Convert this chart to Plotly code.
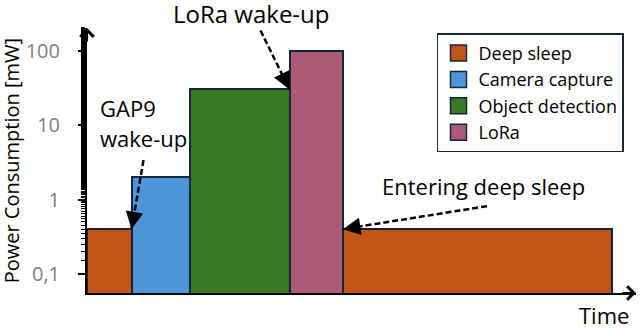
import math

import plotly.graph_objects as go

# phases of one duty cycle, in order of time
phases = ["Deep sleep", "Camera capture", "Object detection", "LoRa", "Deep sleep"]
durations = [44.5, 58.5, 99.5, 53.5, 269.0]  # arbitrary time units
power_mw = [0.4, 2.0, 30.0, 100.0, 0.4]

legend_names = ["Deep sleep", "Camera capture", "Object detection", "LoRa"]
colors = {
    "Deep sleep": "#c25418",
    "Camera capture": "#4f96d8",
    "Object detection": "#3b7a24",
    "LoRa": "#ad5b74",
}

y_tickvals = [0.1, 1, 10, 100]
y_ticktext = ["0,1", "1", "10", "100"]

FONT = "Open Sans, Noto Sans, sans-serif"
OUTLINE = "#13263a"
PX_PER_DECADE = 74.5

starts = [sum(durations[:i]) for i in range(len(durations))]
centers = [s + d / 2 for s, d in zip(starts, durations)]
ends = [s + d for s, d in zip(starts, durations)]

fig = go.Figure()

fig.add_trace(go.Bar(
    x=centers, y=power_mw, width=durations,
    marker=dict(color=[colors[p] for p in phases], line=dict(color=OUTLINE, width=2)),
    showlegend=False, hoverinfo="skip",
))

# legend entries
for name in legend_names:
    fig.add_trace(go.Scatter(
        x=[None], y=[None], mode="markers", name=name,
        marker=dict(symbol="square", size=16, color=colors[name],
                    line=dict(color=OUTLINE, width=1.5)),
    ))


def add_dashed_arrow(head_x, head_y, dx_px, dy_px):
    """dashed arrow ending at (head_x, head_y); tail offset given in pixels (dy up)"""
    tail_x = head_x + dx_px
    tail_y = head_y * 10 ** (dy_px / PX_PER_DECADE)
    fig.add_trace(go.Scatter(
        x=[tail_x, head_x], y=[tail_y, head_y], mode="lines",
        line=dict(color="black", width=2.5, dash="6px,3px"),
        showlegend=False, hoverinfo="skip",
    ))
    n = math.hypot(dx_px, dy_px)
    fig.add_annotation(
        x=head_x, y=math.log10(head_y), xref="x", yref="y", text="",
        showarrow=True, arrowhead=2, arrowsize=1.4, arrowwidth=2.5, arrowcolor="black",
        ax=dx_px / n * 14, ay=-dy_px / n * 14,
    )


# LoRa wake-up -> top-left corner of LoRa bar
add_dashed_arrow(ends[2], power_mw[2], -29, 59)
# GAP9 wake-up -> end of first deep sleep
add_dashed_arrow(ends[0], power_mw[0], 12, 69)
# entering deep sleep -> end of LoRa
add_dashed_arrow(ends[3], power_mw[4], 144, 23)


def add_label(x, y, text, size, xanchor="center", angle=0):
    fig.add_annotation(x=x, y=y, xref="paper", yref="paper", text=text, showarrow=False,
                       xanchor=xanchor, yanchor="middle", textangle=angle,
                       font=dict(family=FONT, size=size, color="black"))


add_label(0.3005, 1.054, "LoRa wake-up", 24)
add_label(0.02, 0.698, "GAP9", 22, xanchor="left")
add_label(0.02, 0.585, "wake-up", 22, xanchor="left")
add_label(0.723, 0.404, "Entering deep sleep", 22)
add_label(0.942, -0.083, "Time", 22)
add_label(-0.137, 0.5, "Power Consumption [mW]", 20, angle=-90)

# axis arrow heads
fig.add_annotation(x=0, y=1, xref="paper", yref="paper", text="", showarrow=True,
                   arrowhead=4, arrowsize=1.3, arrowwidth=2, arrowcolor="black", ax=0, ay=15)
fig.add_annotation(x=1, y=0, xref="paper", yref="paper", text="", showarrow=True,
                   arrowhead=4, arrowsize=1.3, arrowwidth=2, arrowcolor="black", ax=-15, ay=0)

fig.update_layout(
    width=640, height=328,
    margin=dict(l=87, r=4, t=28, b=35, autoexpand=False),
    paper_bgcolor="white", plot_bgcolor="white",
    font=dict(family=FONT, color="black"),
    bargap=0,
    legend=dict(
        x=0.6375, y=0.98, xanchor="left", yanchor="top",
        bordercolor=OUTLINE, borderwidth=1.5, bgcolor="white",
        font=dict(family=FONT, size=18, color="black"),
        itemsizing="trace", tracegroupgap=0,
    ),
    xaxis=dict(range=[0, 549], showline=True, linecolor="black", linewidth=2,
               showticklabels=False, ticks="", showgrid=False, zeroline=False,
               automargin=False),
    yaxis=dict(type="log", range=[-1.255, 2.302], showline=True, linecolor="black", linewidth=2,
               tickvals=y_tickvals, ticktext=y_ticktext, ticks="outside", ticklen=7,
               tickwidth=1.5, tickcolor="black", ticklabelstandoff=14,
               tickfont=dict(family=FONT, size=20, color="#7f7f7f"),
               minor=dict(ticks="outside", ticklen=4, tickwidth=1, tickcolor="black",
                          showgrid=False),
               showgrid=False, zeroline=False, automargin=False),
)

# drop the default page margin so the figure fills the window
fig.write_html("out.html", config={"displayModeBar": False},
               post_script="document.body.style.margin = '0';")
